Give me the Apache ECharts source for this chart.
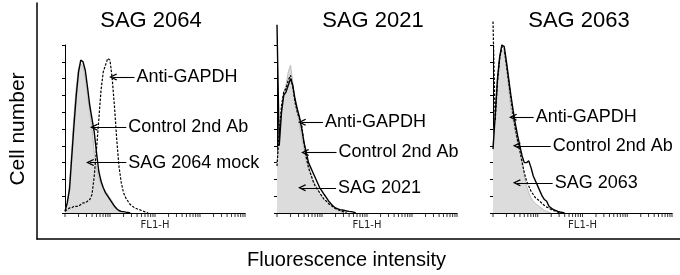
<!DOCTYPE html>
<html>
<head>
<meta charset="utf-8">
<script src="https://cdn.jsdelivr.net/npm/echarts@6/dist/echarts.min.js"></script>
<style>
  html, body { margin: 0; padding: 0; background: #fff; }
  #chart { width: 680px; height: 275px; }
</style>
</head>
<body>
<div id="chart"></div>
<script>
// FL1-H channel values (log spaced, 0.05 decade steps)
const channels = [1, 1.12, 1.26, 1.41, 1.58, 1.78, 2, 2.24, 2.51, 2.82, 3.16, 3.55, 3.98, 4.47, 5.01, 5.62, 6.31, 7.08, 7.94, 8.91,
  10, 11.2, 12.6, 14.1, 15.8, 17.8, 20, 22.4, 25.1, 28.2, 31.6, 35.5, 39.8, 44.7, 50.1, 56.2, 63.1, 70.8, 79.4, 89.1, 100]

// minor tick positions of the FL1-H log axis
const tickValues = [1, 2, 3, 4, 5, 6, 7, 8, 9, 10, 20, 30, 40, 50, 60, 70, 80, 90, 100, 200, 300, 400, 500, 600, 700, 800, 900,
  1000, 2000, 3000, 4000, 5000, 6000, 7000, 8000, 9000, 10000]

const panelTitles = ['SAG 2064', 'SAG 2021', 'SAG 2063']
const mockNames = ['SAG 2064 mock', 'SAG 2021', 'SAG 2063']

// cell counts (scaled 0-100) per channel
const mock2064 = [2, 5, 18, 38, 58, 75, 86, 89, 87, 80, 70, 60, 50, 36, 27, 21, 17, 15, 13, 11, 9, 7, 4, 2, 1, 0.5, 0]
const control2064 = [1, 6, 14, 33, 52, 70, 84, 91, 90, 85, 75, 64, 56, 48, 36, 25, 19, 15, 12, 10, 8, 6, 4, 2.5, 1.5, 1, 0.8, 0.5, 0.3, 0]
const gapdh2064 = [1, 2, 3, 3, 4, 4, 4, 5, 6, 6, 7, 8, 11, 22, 38, 55, 73, 84, 88, 92, 91, 80, 63, 44, 28, 18, 12, 9, 7, 5, 4, 3, 2.5, 2, 1.5, 1, 0.5, 0]

const mock2021 = [30, 45, 62, 72, 76, 84, 88, 78, 67, 60, 52, 45, 38, 31, 28, 24, 20, 17, 15, 12, 10, 8, 7, 5.5, 4.5, 4, 3, 2, 1, 0.5, 0]
const control2021 = [112, 40, 60, 70, 72, 76, 80, 76, 68, 62, 57, 50, 42, 36, 30, 27, 24, 21, 18, 15, 13, 11, 9, 7, 5.5, 4, 3, 2.5, 2, 1.8, 1.5, 1.2, 1, 0.8, 0.5, 0]
const gapdh2021 = [28, 48, 64, 72, 74, 79, 82, 75, 66, 60, 56, 52, 42, 33, 27, 23, 19, 16, 14, 12, 10, 8, 7, 5.5, 4.5, 3.5, 2.5, 2, 1.5, 1, 0.5, 0]

const mock2063 = [40, 58, 80, 92, 97, 96, 86, 74, 62, 55, 48, 42, 38, 33, 22, 16, 12, 9, 7, 5.5, 4.5, 3.5, 2.5, 1.5, 1, 0.5, 0]
const control2063 = [38, 58, 80, 93, 100, 99, 90, 80, 70, 61, 53, 46, 40, 34, 30, 30, 31, 27, 22, 19, 16, 13, 10, 8, 7, 4, 3, 2, 1.5, 1, 0.6, 0.3, 0]
const gapdh2063 = [114, 55, 78, 92, 99, 98, 88, 78, 68, 58, 50, 43, 37, 30, 24, 19, 16, 13, 11, 9, 8, 7, 5.5, 4.5, 3.5, 3, 2, 1.5, 1, 0.5, 0]

const panels = [
  { mock: mock2064, control: control2064, gapdh: gapdh2064 },
  { mock: mock2021, control: control2021, gapdh: gapdh2021 },
  { mock: mock2063, control: control2063, gapdh: gapdh2063 }
]

// arrow labels: [label, tip FL1-H, tail FL1-H, level]
const notes = [
  [['Anti-GAPDH', 11.7, 35, 81], ['Control 2nd Ab', 4.4, 23, 51], ['SAG 2064 mock', 3.6, 23, 30]],
  [['Anti-GAPDH', 3.6, 10.5, 54], ['Control 2nd Ab', 4.2, 21, 36], ['SAG 2021', 3.6, 20.5, 15]],
  [['Anti-GAPDH', 2.8, 8.1, 57], ['Control 2nd Ab', 3.4, 19.5, 40], ['SAG 2063', 3.4, 21.5, 18]]
]

const toPairs = vals => vals.map((v, i) => [channels[i], v])
const FONT = '"Liberation Sans", Arial, sans-serif'
const chevron = 'path://M5,0 L10,9 L8.6,10 L5,3.6 L1.4,10 L0,9 Z'

const gridPos = [
  { left: 65, top: 45, width: 180, height: 168 },
  { left: 277, top: 45, width: 180, height: 168 },
  { left: 493, top: 45, width: 179, height: 168 }
]

const grids = gridPos.concat([{ left: 32, top: 3, right: 0, bottom: 35 }])
const xAxes = []
const yAxes = []
const series = []

gridPos.forEach((g, i) => {
  xAxes.push({
    type: 'log', logBase: 10, min: 1, max: 10000, gridIndex: i,
    name: 'FL1-H', nameLocation: 'middle', nameGap: 7,
    nameTextStyle: { fontFamily: '"DejaVu Sans", sans-serif', fontSize: 10, color: '#222' },
    axisLine: { lineStyle: { color: '#000', width: 1 } },
    axisTick: { show: false }, axisLabel: { show: false }, splitLine: { show: false }
  })
  yAxes.push({
    type: 'value', min: 0, max: 100, interval: 10, gridIndex: i,
    axisLine: { show: true, lineStyle: { color: '#000', width: 1 } },
    axisTick: { show: true, length: 3, lineStyle: { color: '#000' } },
    axisLabel: { show: false }, splitLine: { show: false }
  })
  const p = panels[i]
  series.push({
    type: 'line', xAxisIndex: i, yAxisIndex: i, data: toPairs(p.mock), name: mockNames[i],
    symbol: 'none', smooth: false, z: 1,
    lineStyle: { color: '#bdbdbd', width: 1 },
    areaStyle: { color: '#dcdcdc', opacity: 1 }
  })
  series.push({
    type: 'line', xAxisIndex: i, yAxisIndex: i, data: toPairs(p.gapdh), name: 'Anti-GAPDH',
    symbol: 'none', z: 2, clip: false,
    lineStyle: { color: '#000', width: 1.2, type: [2.5, 1.5] }
  })
  series.push({
    type: 'line', xAxisIndex: i, yAxisIndex: i, data: toPairs(p.control), name: 'Control 2nd Ab',
    symbol: 'none', z: 3, clip: false,
    lineStyle: { color: '#000', width: 1.4 },
    markLine: {
      silent: true, animation: false,
      symbol: [chevron, 'none'], symbolSize: [7, 8],
      lineStyle: { color: '#000', width: 1.1, type: 'solid' },
      label: { position: 'end', distance: 2, formatter: '{b}', color: '#000', fontSize: 18, fontFamily: FONT },
      data: notes[i].map(n => [
        { name: n[0], coord: [n[1], n[3]] },
        { coord: [n[2], n[3]] }
      ])
    }
  })
  series.push({
    type: 'scatter', xAxisIndex: i, yAxisIndex: i, silent: true, z: 4,
    data: tickValues.map(v => [v, 0]),
    symbol: 'rect', symbolSize: [1, 4], symbolOffset: [0, 2],
    itemStyle: { color: '#000' }
  })
})

// outer frame with the shared axis titles
xAxes.push({
  type: 'value', min: 0, max: 1, gridIndex: 3,
  name: 'Fluorescence intensity', nameLocation: 'middle', nameGap: 11,
  nameTextStyle: { fontFamily: FONT, fontSize: 20, color: '#000', padding: [0, 24, 0, 0] },
  axisLine: { lineStyle: { color: '#000', width: 1.5 } },
  axisTick: { show: false }, axisLabel: { show: false }, splitLine: { show: false }
})
yAxes.push({
  type: 'value', min: 0, max: 1, gridIndex: 3,
  name: 'Cell number', nameLocation: 'middle', nameGap: 8,
  nameTextStyle: { fontFamily: FONT, fontSize: 21, color: '#000', padding: [0, 16, 0, 0] },
  axisLine: { show: true, lineStyle: { color: '#000', width: 1.5 } },
  axisTick: { show: false }, axisLabel: { show: false }, splitLine: { show: false }
})

const chart = echarts.init(document.getElementById('chart'), null, { renderer: 'canvas' })
chart.setOption({
  animation: false,
  backgroundColor: '#fff',
  title: panelTitles.map((t, i) => ({
    text: t, left: [151, 373, 579][i], top: 10, textAlign: 'center', padding: 0,
    textStyle: { fontFamily: FONT, fontSize: 22, fontWeight: 'normal', color: '#000' }
  })),
  grid: grids,
  xAxis: xAxes,
  yAxis: yAxes,
  series: series
})
</script>
</body>
</html>
